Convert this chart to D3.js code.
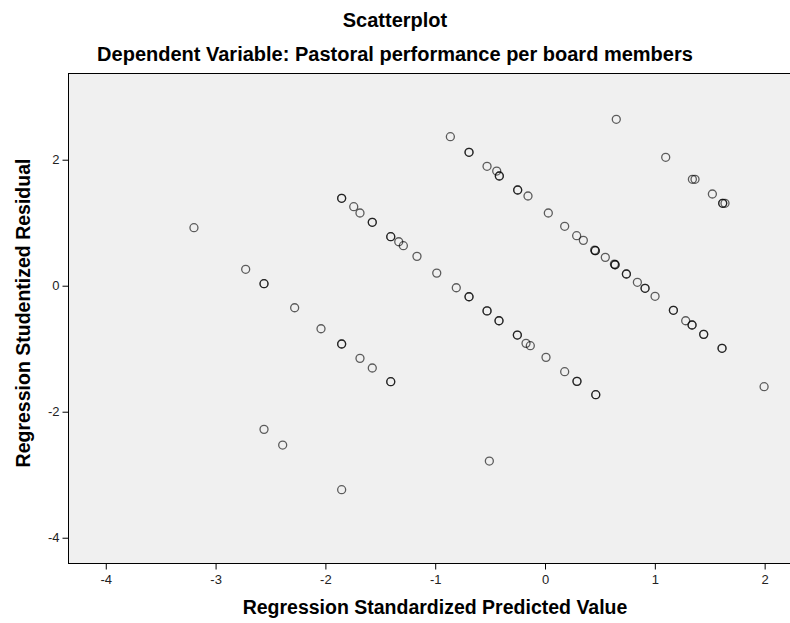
<!DOCTYPE html>
<html>
<head>
<meta charset="utf-8">
<script src="https://cdn.jsdelivr.net/npm/d3@7"></script>
<style>
  html, body { margin: 0; padding: 0; background: #fff; }
  svg { display: block; font-family: "Liberation Sans", Arial, sans-serif; }
</style>
</head>
<body>
<svg id="chart" width="790" height="623"></svg>
<script>
// Regression Standardized Predicted Value (x) for each case
const predicted = [
  -3.197, -2.726, -2.559, -2.559, -2.28, -2.04, -1.852, -1.852, -1.685, -1.573, -1.405, -1.405,
  -2.559, -2.389, -1.852, -0.507,
  -1.852, -1.852, -1.742, -1.685, -1.573, -1.573, -1.405, -1.405, -1.332, -1.29, -1.166, -0.986,
  -0.808, -0.692, -0.692, -0.528, -0.528, -0.419, -0.419, -0.252, -0.252, -0.173, -0.134, 0.009,
  0.179, 0.291, 0.291, 0.462, 0.462,
  -0.862, -0.692, -0.692, -0.528, -0.44, -0.416, -0.416, -0.249, -0.249, -0.155, 0.03, 0.179,
  0.288, 0.349, 0.458, 0.458, 0.452, 0.549, 0.638, 0.638, 0.632, 0.741, 0.741, 0.841, 0.911, 0.911,
  1.002, 1.169, 1.169, 1.281, 1.339, 1.339, 1.445, 1.445, 1.612, 1.612, 1.995,
  0.649, 1.099, 1.342, 1.366, 1.524, 1.618, 1.618, 1.639
];
// Regression Studentized Residual (y) for each case
const residual = [
  0.921, 0.26, 0.032, 0.032, -0.35, -0.683, -0.925, -0.925, -1.153, -1.306, -1.523, -1.523,
  -2.28, -2.529, -3.238, -2.783,
  1.387, 1.387, 1.254, 1.154, 1.006, 1.006, 0.778, 0.778, 0.698, 0.635, 0.466, 0.20,
  -0.032, -0.175, -0.175, -0.40, -0.40, -0.556, -0.556, -0.783, -0.783, -0.915, -0.952, -1.137,
  -1.365, -1.518, -1.518, -1.73, -1.73,
  2.365, 2.117, 2.117, 1.895, 1.82, 1.741, 1.741, 1.519, 1.519, 1.424, 1.154, 0.943,
  0.794, 0.72, 0.556, 0.556, 0.565, 0.45, 0.333, 0.333, 0.343, 0.186, 0.186, 0.054, -0.041, -0.041,
  -0.168, -0.39, -0.39, -0.556, -0.624, -0.624, -0.772, -0.772, -0.994, -0.994, -1.603,
  2.641, 2.038, 1.689, 1.689, 1.456, 1.308, 1.308, 1.308
];
const xTicks = [-4, -3, -2, -1, 0, 1, 2];
const yTicks = [-4, -2, 0, 2];

const title = "Scatterplot";
const subtitle = "Dependent Variable: Pastoral performance per board members";
const xLabel = "Regression Standardized Predicted Value";
const yLabel = "Regression Studentized Residual";

const svg = d3.select("#chart");
const plot = { left: 68, top: 72.7, right: 791, bottom: 563.3 };

const x = d3.scaleLinear().domain([-4.344, 2.240]).range([plot.left, plot.right]);
const y = d3.scaleLinear().domain([-4.406, 3.381]).range([plot.bottom, plot.top]);

// plot background
svg.append("rect")
  .attr("x", plot.left + 0.5).attr("y", Math.round(plot.top) + 0.5)
  .attr("width", plot.right - plot.left).attr("height", Math.round(plot.bottom) - Math.round(plot.top))
  .attr("fill", "#f0f0f0").attr("stroke", "#000").attr("stroke-width", 1);

// axes
const xAxis = svg.append("g")
  .attr("transform", `translate(0,${Math.round(plot.bottom) + 0.5})`)
  .call(d3.axisBottom(x).tickValues(xTicks).tickSize(6).tickSizeOuter(0).tickPadding(5)
    .tickFormat(d3.format("d")));
xAxis.select(".domain").remove();

const yAxis = svg.append("g")
  .attr("transform", `translate(${plot.left + 0.5},0)`)
  .call(d3.axisLeft(y).tickValues(yTicks).tickSize(6).tickSizeOuter(0).tickPadding(3)
    .tickFormat(d3.format("d")));
yAxis.select(".domain").remove();

svg.selectAll(".tick text").attr("font-size", 13).attr("fill", "#222")
  .attr("font-family", "'Liberation Sans', Arial, sans-serif")
  .text(d => d < 0 ? "-" + Math.abs(d) : String(d));
svg.selectAll(".tick line").attr("stroke", "#000");

// points
svg.append("g").selectAll("circle")
  .data(d3.range(predicted.length))
  .join("circle")
  .attr("cx", i => x(predicted[i]))
  .attr("cy", i => y(residual[i]))
  .attr("r", 4)
  .attr("fill", "none")
  .attr("stroke", "#000")
  .attr("stroke-opacity", 0.62)
  .attr("stroke-width", 1.3);

// titles (centred on the whole chart)
svg.append("text").attr("x", 395).attr("y", 27).attr("text-anchor", "middle")
  .attr("font-size", 20).attr("font-weight", "bold").text(title);
svg.append("text").attr("x", 395).attr("y", 61).attr("text-anchor", "middle")
  .attr("font-size", 20).attr("font-weight", "bold").text(subtitle);

// axis labels
svg.append("text").attr("x", 435).attr("y", 614).attr("text-anchor", "middle")
  .attr("font-size", 19.5).attr("font-weight", "bold").text(xLabel);
svg.append("text")
  .attr("transform", `translate(30,313) rotate(-90)`)
  .attr("text-anchor", "middle")
  .attr("font-size", 19.5).attr("font-weight", "bold").text(yLabel);
</script>
</body>
</html>
